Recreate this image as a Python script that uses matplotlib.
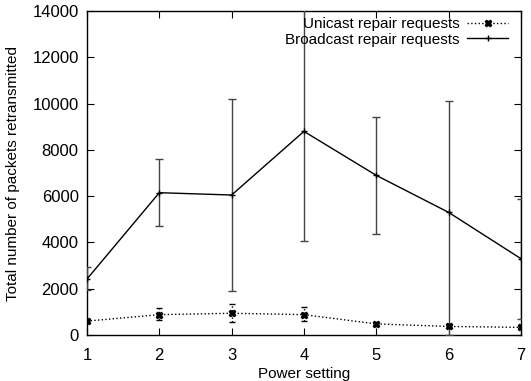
import matplotlib
matplotlib.use("Agg")
import matplotlib.pyplot as plt
from matplotlib.lines import Line2D
import numpy as np

power = [1, 2, 3, 4, 5, 6, 7]

broadcast = [2420, 6150, 6050, 8800, 6900, 5300, 3300]
broadcast_lo = [1950, 4700, 1900, 4080, 4380, 0, 700]
broadcast_hi = [2950, 7600, 10200, 14500, 9400, 10130, 5880]

unicast = [600, 880, 940, 880, 480, 370, 330]
unicast_lo = [560, 650, 550, 600, 440, 330, 290]
unicast_hi = [650, 1150, 1350, 1200, 520, 420, 380]

plt.rcParams['font.family'] = ['Liberation Sans', 'DejaVu Sans']
plt.rcParams['font.size'] = 12

fig = plt.figure(figsize=(5.31, 3.81), dpi=100)
ax = fig.add_axes([0.1638, 0.1207, 0.8172, 0.8503])

b = np.array(broadcast)
u = np.array(unicast)

# unicast: dotted line, dotted error bars
eu = ax.errorbar(power, u, yerr=[u - np.array(unicast_lo), np.array(unicast_hi) - u],
                 color='black', linestyle=':', linewidth=1, marker='X', markersize=5,
                 capsize=2, elinewidth=1, zorder=3)
for col in eu[2]:
    col.set_linestyle(':')

ax.errorbar(power, b, yerr=[b - np.array(broadcast_lo), np.array(broadcast_hi) - b],
            color='black', linestyle='-', linewidth=1, marker='+', markersize=4,
            capsize=3, elinewidth=1, ecolor='#444444', zorder=3)

ax.set_xlim(1, 7)
ax.set_ylim(0, 14000)
ax.set_xticks(power)
ax.set_yticks(np.arange(0, 14001, 2000))
ax.tick_params(direction='in', top=True, right=True, length=5, width=0.8)
ax.tick_params(axis='x', pad=9)
ax.tick_params(axis='y', pad=6)
for s in ax.spines.values():
    s.set_linewidth(1)

ax.set_xlabel('Power setting', fontsize=11, labelpad=3)
ax.set_ylabel('Total number of packets retransmitted', fontsize=11, labelpad=9)

handles = [
    Line2D([], [], color='black', linestyle=':', linewidth=1, marker='X', markersize=5),
    Line2D([], [], color='black', linestyle='-', linewidth=1, marker='+', markersize=4),
]
labels = ['Unicast repair requests', 'Broadcast repair requests']
ax.legend(handles, labels, loc='upper right', bbox_to_anchor=(0.985, 1.0), frameon=False,
          markerfirst=False, handlelength=2.7, handletextpad=0.5, labelspacing=0.1,
          borderaxespad=0, fontsize=11)

fig.savefig('out.png', dpi=100)
